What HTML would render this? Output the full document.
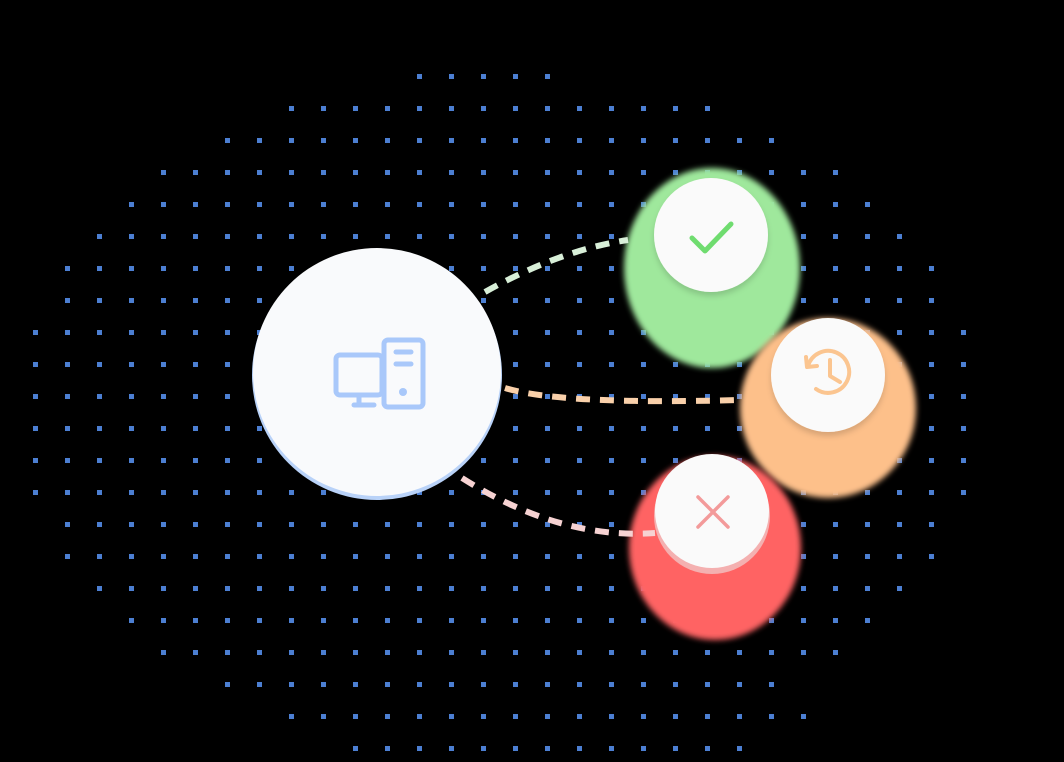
<!DOCTYPE html>
<html><head><meta charset="utf-8"><style>
html,body{margin:0;padding:0;background:#000;width:1064px;height:762px;overflow:hidden}
svg{display:block}
</style></head><body>
<svg id="s" width="1064" height="762" viewBox="0 0 1064 762" xmlns="http://www.w3.org/2000/svg">
<defs>
<filter id="blur" x="-50%" y="-50%" width="200%" height="200%"><feGaussianBlur stdDeviation="3"/></filter>
<filter id="sh" x="-50%" y="-50%" width="200%" height="200%"><feDropShadow dx="0" dy="4" stdDeviation="3" flood-color="#000" flood-opacity="0.15"/></filter>
</defs>
<g id="dots"></g>
<ellipse cx="712" cy="268" rx="88" ry="100" fill="#9fe89c" filter="url(#blur)"/>
<ellipse cx="828" cy="408" rx="88" ry="90" fill="#fdc08a" filter="url(#blur)"/>
<ellipse cx="715" cy="548" rx="86" ry="92" fill="#ff6363" filter="url(#blur)"/>
<path d="M485 292 Q560 250 628 240" stroke="#d8efd8" stroke-width="6" fill="none" stroke-dasharray="14 10"/>
<path d="M505 388 Q560 405 740 400" stroke="#f9d0aa" stroke-width="6" fill="none" stroke-dasharray="14 10"/>
<path d="M462 478 Q560 540 655 533" stroke="#f6d2d2" stroke-width="6" fill="none" stroke-dasharray="14 10"/>
<circle cx="377" cy="375" r="125" fill="#b9d2f8"/>
<circle cx="377" cy="372" r="124" fill="#f9fafc"/>
<g fill="none" stroke="#a9c8fa" stroke-width="5" stroke-linecap="round" stroke-linejoin="round">
<rect x="336" y="355" width="46" height="40" rx="4"/>
<rect x="384" y="340" width="39" height="67" rx="4"/>
<line x1="359" y1="395" x2="359" y2="405"/>
<line x1="354" y1="405" x2="374" y2="405"/>
<line x1="396" y1="352" x2="411" y2="352"/>
<line x1="396" y1="364" x2="411" y2="364"/>
</g>
<circle cx="403" cy="392" r="4" fill="#a9c8fa"/>
<circle cx="711" cy="235" r="57" fill="#fafafa" filter="url(#sh)"/>
<polyline points="692,238 705,251 731,224" fill="none" stroke="#6fdc6f" stroke-width="5" stroke-linecap="round" stroke-linejoin="round"/>
<circle cx="828" cy="375" r="57" fill="#fafafa" filter="url(#sh)"/>
<g fill="none" stroke="#fbc590" stroke-width="4" stroke-linecap="round" stroke-linejoin="round">
<path d="M808 366 A21 21 0 1 1 816 389"/>
<polyline points="806,357 807,367 817,366"/>
<polyline points="830,360 830,376 840,382"/>
</g>
<circle cx="712" cy="516" r="58" fill="#f4b0b0"/>
<circle cx="712" cy="511" r="57" fill="#fafafa"/>
<g stroke="#f39a9a" stroke-width="3.5" stroke-linecap="round">
<line x1="698" y1="497" x2="728" y2="527"/>
<line x1="728" y1="497" x2="698" y2="527"/>
</g>
</svg>
<script>
var g=document.getElementById('dots'),h='';
for(var y=76;y<=748;y+=32){for(var x=35;x<=1000;x+=32){
var dx=(x-499)/482,dy=(y-412)/346,ok=dx*dx+dy*dy<=1.0;
if(y==76)ok=(x>=419&&x<=547);
if(y==748)ok=(x>=355&&x<=739);
if(y==716)ok=(x>=291&&x<=803);
if(ok){h+='<rect x="'+(x-2)+'" y="'+(y-2)+'" width="5" height="5" fill="#4c7fd2"/>';}}}
g.innerHTML=h;
</script>
</body></html>
